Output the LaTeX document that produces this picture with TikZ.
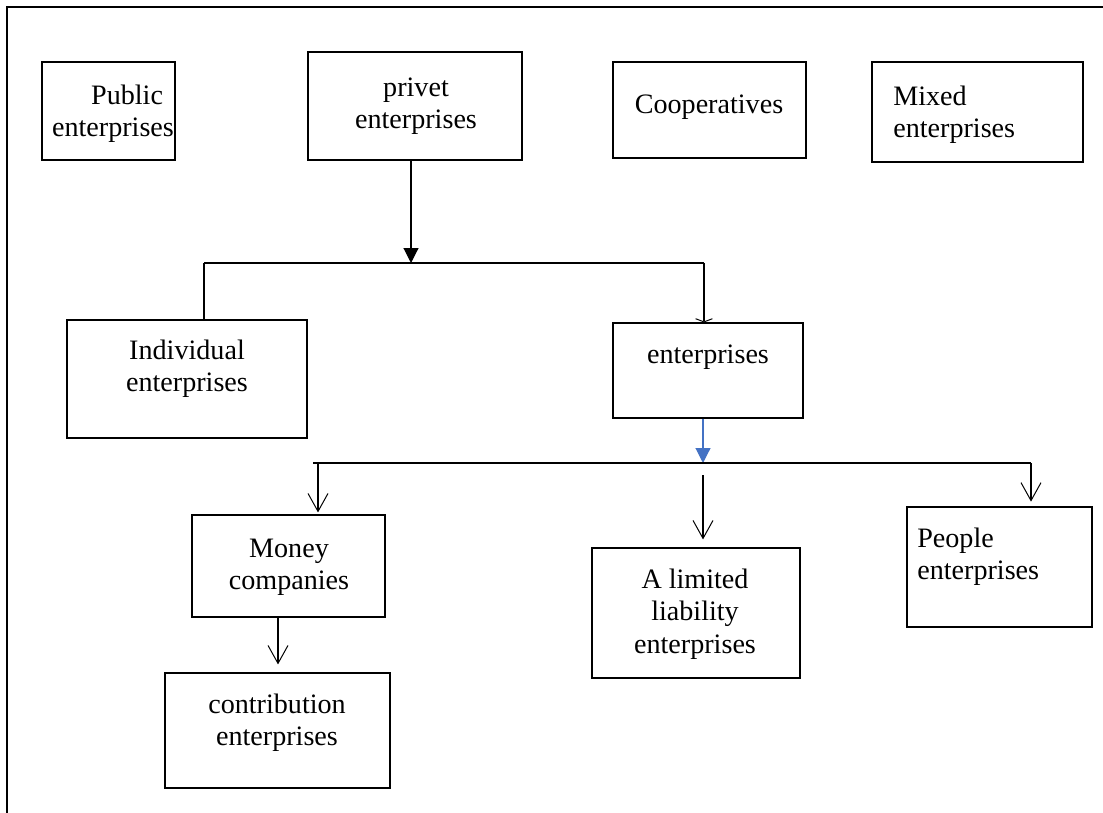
\documentclass[tikz,border=0pt]{standalone}
\usepackage{fontspec}
\setmainfont{Liberation Serif}
\usetikzlibrary{arrows.meta,fit}
\definecolor{linkblue}{HTML}{4472C4}
\begin{document}
\begin{tikzpicture}[x=0.025cm,y=-0.025cm,
  box/.style={draw=black, line width=0.8pt, inner sep=0pt},
  lbl/.style={font=\fontsize{20}{23}\selectfont, align=center, inner sep=0pt},
  lbll/.style={lbl, align=left, anchor=west},
  conn/.style={line width=0.8pt},
  solidtip/.style={-{Triangle[length=0.37cm,width=0.37cm]}},
  opentip/.style={-{Straight Barb[length=0.45cm,width=0.5cm,line width=0.7pt]}},
  smalltip/.style={-{Straight Barb[length=0.08cm,width=0.42cm,line width=0.7pt]}}]
\useasboundingbox (0,0) rectangle (1103,813);
% page frame
\draw[line width=1.6pt] (7,813) -- (7,7) -- (1103,7);

% boxes
\node[box, fit={(42,62) (175,160)}] (pub) {};
\node[box, fit={(308,52) (522,160)}] (priv) {};
\node[box, fit={(613,62) (806,158)}] (coop) {};
\node[box, fit={(872,62) (1083,162)}] (mix) {};
\node[box, fit={(67,320) (307,438)}] (ind) {};
\node[box, fit={(613,323) (803,418)}] (ent) {};
\node[box, fit={(192,515) (385,617)}] (money) {};
\node[box, fit={(592,548) (800,678)}] (lim) {};
\node[box, fit={(907,507) (1092,627)}] (people) {};
\node[box, fit={(165,673) (390,788)}] (contrib) {};

% labels
\node[lbl] (pubt) at (113,114) {\hspace*{1em}Public\\enterprises};
\node[lbl] (privt) at (416,106) {privet\\enterprises};
\node[lbl] (coopt) at (709,107) {Cooperatives};
\node[lbll] (mixt) at (893,115) {Mixed\\enterprises};
\node[lbl] (indt) at (187,369) {Individual\\enterprises};
\node[lbl] (entt) at (708,357) {enterprises};
\node[lbl] (moneyt) at (289,567) {Money\\companies};
\node[lbl] (limt) at (695,614) {A limited\\liability\\enterprises};
\node[lbll] (peoplet) at (917,557) {People\\enterprises};
\node[lbl] (contribt) at (277,723) {contribution\\enterprises};

% first branching
\coordinate (j1l) at (204,263);
\coordinate (j1m) at (411,263);
\coordinate (j1r) at (704,263);
\draw[conn, solidtip] (priv.south -| j1m) -- (j1m);
\draw[conn] (j1l) -- (j1r);
\draw[conn] (j1l) -- (ind.north -| j1l);
\draw[conn, smalltip] (j1r) -- (ent.north -| j1r);

% second branching
\coordinate (j2l) at (313,463);
\coordinate (j2a) at (318,463);
\coordinate (j2m) at (703,463);
\coordinate (j2b) at (703,475);
\coordinate (j2r) at (1031,463);
\draw[conn, linkblue, solidtip] (ent.south -| j2m) -- (j2m);
\draw[conn] (j2l) -- (j2r);
\draw[conn, opentip, shorten >=0.05cm] (j2a) -- (money.north -| j2a);
\draw[conn, opentip, shorten >=0.2cm] (j2b) -- (lim.north -| j2b);
\draw[conn, opentip, shorten >=0.12cm] (j2r) -- (people.north -| j2r);

% money companies to contribution enterprises
\coordinate (mc) at (278,617);
\draw[conn, opentip, shorten >=0.2cm] (money.south -| mc) -- (contrib.north -| mc);
\end{tikzpicture}
\end{document}
